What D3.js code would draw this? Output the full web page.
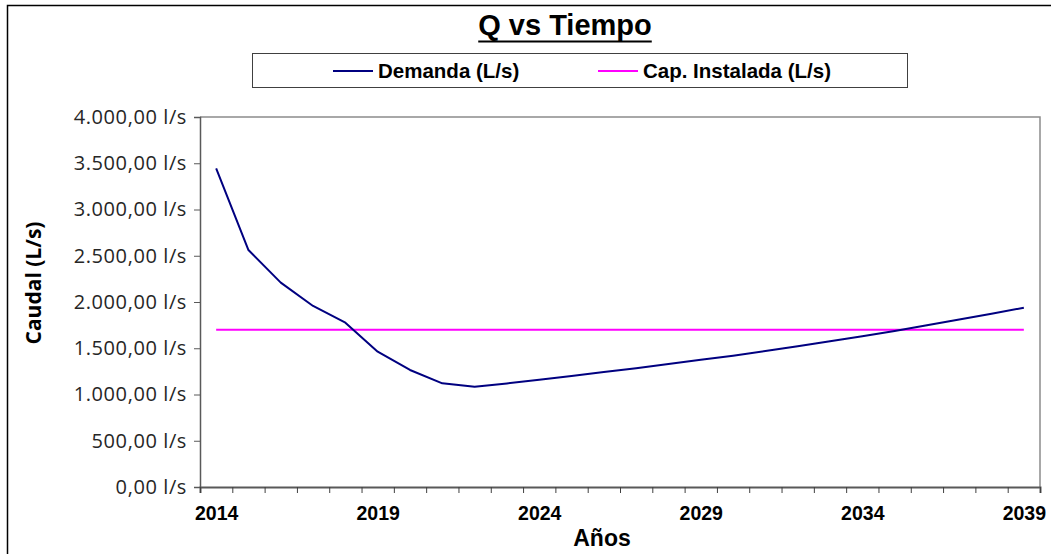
<!DOCTYPE html>
<html>
<head>
<meta charset="utf-8">
<script src="https://cdn.jsdelivr.net/npm/d3@7"></script>
<style>
    body { margin: 0; background: #fff; }
    svg { display: block; }
</style>
</head>
<body>
<svg id="chart" width="1051" height="554"></svg>
<script>
(function () {
    'use strict';

    var years = [2014, 2015, 2016, 2017, 2018, 2019, 2020, 2021, 2022, 2023, 2024, 2025, 2026,
                 2027, 2028, 2029, 2030, 2031, 2032, 2033, 2034, 2035, 2036, 2037, 2038, 2039];
    var demanda = [3445, 2562, 2209, 1957, 1776, 1463, 1265, 1121, 1084, 1120, 1160, 1200, 1242,
                   1285, 1330, 1375, 1420, 1470, 1522, 1575, 1630, 1686, 1748, 1810, 1873, 1938];
    var capInstalada = [1700, 1700, 1700, 1700, 1700, 1700, 1700, 1700, 1700, 1700, 1700, 1700, 1700,
                        1700, 1700, 1700, 1700, 1700, 1700, 1700, 1700, 1700, 1700, 1700, 1700, 1700];
    var yTicks = [0, 500, 1000, 1500, 2000, 2500, 3000, 3500, 4000];
    var xLabels = [2014, 2019, 2024, 2029, 2034, 2039];
    var series = [
        {name: 'Demanda (L/s)', values: demanda, color: '#000080'},
        {name: 'Cap. Instalada (L/s)', values: capInstalada, color: '#ff00ff'}
    ];

    var svg = d3.select('#chart'),
        plot = {left: 200, right: 1040, top: 117, bottom: 487};

    // outer frame (runs off the right and bottom edges)
    svg.append('rect')
        .attr('x', 7.5).attr('y', 5.5)
        .attr('width', 1100).attr('height', 600)
        .attr('fill', 'none').attr('stroke', '#000').attr('stroke-width', 1.5);

    // categories sit between the ticks, so the scale runs half a year past each end
    var x = d3.scaleLinear()
        .domain([years[0] - 0.5, years[years.length - 1] + 0.5])
        .range([plot.left, plot.right]);

    var y = d3.scaleLinear()
        .domain([0, 4000])
        .range([plot.bottom, plot.top]);

    var es = d3.formatLocale({decimal: ',', thousands: '.', grouping: [3], currency: ['', '']});
    var fmt = es.format(',.2f');

    // plot area border
    svg.append('path')
        .attr('d', 'M' + plot.left + ',' + plot.top + 'H' + plot.right + 'V' + plot.bottom)
        .attr('fill', 'none').attr('stroke', '#8c8c8c').attr('stroke-width', 1.5);

    var gy = svg.append('g')
        .attr('transform', 'translate(' + plot.left + ',0)')
        .call(d3.axisLeft(y).tickValues(yTicks).tickSize(6).tickPadding(7)
            .tickFormat(function (d) { return fmt(d) + ' l/s'; }));
    gy.select('.domain').attr('stroke', '#595959').attr('stroke-width', 1.5);
    gy.selectAll('.tick line').attr('stroke', '#595959');
    gy.selectAll('text')
        .attr('fill', '#262626')
        .style('font-family', '"Open Sans", sans-serif')
        .style('font-size', '20px')
        .style('letter-spacing', '0.6px');

    var edges = years.map(function (d) { return d - 0.5; }).concat([years[years.length - 1] + 0.5]);
    var gx = svg.append('g')
        .attr('transform', 'translate(0,' + plot.bottom + ')')
        .call(d3.axisBottom(x).tickValues(edges).tickSize(6).tickFormat(''));
    gx.select('.domain').attr('stroke', '#595959').attr('stroke-width', 2);
    gx.selectAll('.tick line').attr('stroke', '#404040');

    var gl = svg.append('g')
        .attr('transform', 'translate(0,' + plot.bottom + ')')
        .call(d3.axisBottom(x).tickValues(xLabels).tickSize(0).tickPadding(19).tickFormat(d3.format('d')));
    gl.select('.domain').remove();
    gl.selectAll('text')
        .attr('fill', '#000')
        .style('font-family', '"Liberation Sans", Arial, sans-serif')
        .style('font-weight', 'bold')
        .style('font-size', '19.5px');

    var line = d3.line()
        .x(function (d, i) { return x(years[i]); })
        .y(function (d) { return y(d); });

    series.slice().reverse().forEach(function (s) {
        svg.append('path')
            .datum(s.values)
            .attr('fill', 'none')
            .attr('stroke', s.color)
            .attr('stroke-width', 2)
            .attr('stroke-linejoin', 'round')
            .attr('d', line);
    });

    // title
    var title = svg.append('text')
        .attr('x', 565).attr('y', 35)
        .attr('text-anchor', 'middle')
        .style('font-family', '"Liberation Sans", Arial, sans-serif')
        .style('font-weight', 'bold')
        .style('font-size', '29px')
        .text('Q vs Tiempo');
    var tb = title.node().getBBox();
    svg.append('line')
        .attr('x1', tb.x).attr('x2', tb.x + tb.width)
        .attr('y1', 41.5).attr('y2', 41.5)
        .attr('stroke', '#000').attr('stroke-width', 2);

    // legend
    svg.append('rect')
        .attr('x', 252.5).attr('y', 53.5)
        .attr('width', 655).attr('height', 34)
        .attr('fill', '#fff').attr('stroke', '#404040').attr('stroke-width', 1);

    var legendX = [333, 598];
    var lg = svg.selectAll('.legend')
        .data(series)
        .enter().append('g')
        .attr('class', 'legend')
        .attr('transform', function (d, i) { return 'translate(' + legendX[i] + ',71)'; });
    lg.append('line')
        .attr('x1', 0).attr('x2', 40)
        .attr('stroke', function (d) { return d.color; })
        .attr('stroke-width', 2);
    lg.append('text')
        .attr('x', 45).attr('y', 7)
        .style('font-family', '"Liberation Sans", Arial, sans-serif')
        .style('font-weight', 'bold')
        .style('font-size', '20.5px')
        .text(function (d) { return d.name; });

    // axis titles
    svg.append('text')
        .attr('transform', 'translate(41,283) rotate(-90)')
        .attr('text-anchor', 'middle')
        .style('font-family', '"Open Sans", sans-serif')
        .style('font-weight', 'bold')
        .style('font-size', '21px')
        .text('Caudal (L/s)');

    svg.append('text')
        .attr('x', 602).attr('y', 546)
        .attr('text-anchor', 'middle')
        .style('font-family', '"Liberation Sans", Arial, sans-serif')
        .style('font-weight', 'bold')
        .style('font-size', '23px')
        .text('Años');
})();
</script>
</body>
</html>
